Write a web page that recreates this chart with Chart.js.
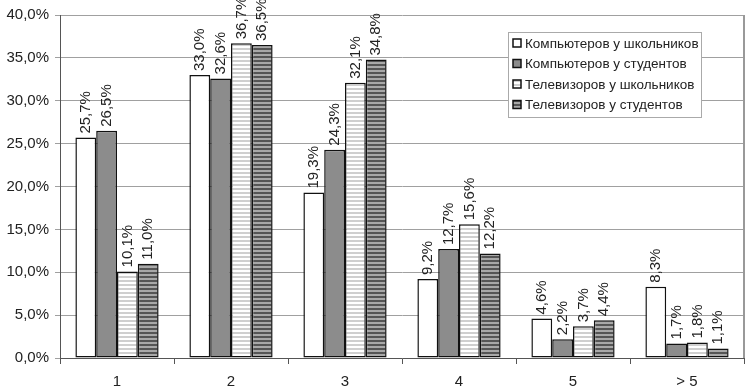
<!DOCTYPE html>
<html>
<head>
<meta charset="utf-8">
<script src="https://cdn.jsdelivr.net/npm/chart.js@4"></script>
<style>
  body { margin: 0; background: #fff; }
  #wrap { width: 749px; height: 391px; }
</style>
</head>
<body>
<div id="wrap"><canvas id="chart" width="749" height="391"></canvas></div>
<script>
var categories = ['1', '2', '3', '4', '5', '> 5'];
var seriesNames = [
    'Компьютеров у школьников',
    'Компьютеров у студентов',
    'Телевизоров у школьников',
    'Телевизоров у студентов'
];
var compSchool = [25.7, 33.0, 19.3, 9.2, 4.6, 8.3];
var compStudent = [26.5, 32.6, 24.3, 12.7, 2.2, 1.7];
var tvSchool = [10.1, 36.7, 32.1, 15.6, 3.7, 1.8];
var tvStudent = [11.0, 36.5, 34.8, 12.2, 4.4, 1.1];
var yTicks = [0, 5, 10, 15, 20, 25, 30, 35, 40];

var FONT = '"Liberation Sans", Arial, sans-serif';

function fmt(v) {
    return v.toFixed(1).replace('.', ',') + '%';
}

// horizontal stripe fill
function stripes(bg, line) {
    var c = document.createElement('canvas');
    c.width = 4; c.height = 4;
    var g = c.getContext('2d');
    g.fillStyle = bg;
    g.fillRect(0, 0, 4, 4);
    g.fillStyle = line;
    g.fillRect(0, 0, 4, 2);
    return g.createPattern(c, 'repeat');
}

var fills = ['#ffffff', '#8c8c8c', stripes('#ffffff', '#cfcfcf'), stripes('#a8a8a8', '#555555')];

var labelsPlugin = {
    id: 'barLabels',
    afterDatasetsDraw(chart) {
        var ctx = chart.ctx;
        ctx.save();
        ctx.font = '15px ' + FONT;
        ctx.fillStyle = '#222';
        ctx.textAlign = 'left';
        ctx.textBaseline = 'middle';
        chart.data.datasets.forEach((ds, i) => {
            chart.getDatasetMeta(i).data.forEach((bar, j) => {
                ctx.save();
                ctx.translate(bar.x, bar.y - 4);
                ctx.rotate(-Math.PI / 2);
                ctx.fillText(fmt(ds.data[j]), 0, 0);
                ctx.restore();
            });
        });
        ctx.restore();
    },
    afterDraw(chart) {
        var ctx = chart.ctx;
        var a = chart.chartArea;
        ctx.save();
        // right border of plot
        ctx.strokeStyle = '#999';
        ctx.lineWidth = 2;
        ctx.beginPath();
        ctx.moveTo(a.right, a.top);
        ctx.lineTo(a.right, a.bottom);
        ctx.stroke();

        // legend box
        var lx = 508, ly = 32, lw = 193, lh = 85;
        ctx.fillStyle = '#fff';
        ctx.fillRect(lx, ly, lw, lh);
        ctx.strokeStyle = '#aaa';
        ctx.lineWidth = 1;
        ctx.strokeRect(lx + 0.5, ly + 0.5, lw, lh);
        ctx.font = '13.5px ' + FONT;
        ctx.textBaseline = 'middle';
        seriesNames.forEach((name, i) => {
            var y = 43 + i * 20.5;
            ctx.fillStyle = fills[i];
            ctx.fillRect(513, y - 4, 8, 8);
            ctx.strokeStyle = '#111';
            ctx.lineWidth = 1.5;
            ctx.strokeRect(513, y - 4, 8, 8);
            ctx.fillStyle = '#222';
            ctx.fillText(name, 525, y + 1);
        });
        ctx.restore();
    }
};

var datasets = [compSchool, compStudent, tvSchool, tvStudent].map((d, i) => ({
    label: seriesNames[i],
    data: d,
    backgroundColor: fills[i],
    borderColor: '#111',
    borderWidth: 1.5,
    borderSkipped: false,
    categoryPercentage: 0.73,
    barPercentage: 1.0
}));

new Chart('chart', {
    type: 'bar',
    data: { labels: categories, datasets: datasets },
    plugins: [labelsPlugin],
    options: {
        responsive: false,
        animation: false,
        layout: { padding: { top: 15, right: 5, left: 0, bottom: 0 } },
        plugins: { legend: { display: false }, tooltip: { enabled: false } },
        scales: {
            x: {
                grid: { drawOnChartArea: false, offset: true, tickLength: 6, color: '#555' },
                border: { color: '#555', width: 1 },
                ticks: { font: { family: FONT, size: 15 }, color: '#222', padding: 9 },
                afterFit(s) { s.height = 33; }
            },
            y: {
                min: 0,
                max: 40,
                afterBuildTicks(s) { s.ticks = yTicks.map(v => ({ value: v })); },
                grid: { color: '#a0a0a0', lineWidth: 1, drawTicks: true, tickLength: 5 },
                border: { color: '#555', width: 1 },
                ticks: {
                    font: { family: FONT, size: 15 },
                    color: '#222',
                    padding: 6,
                    callback: v => fmt(v)
                },
                afterFit(s) { s.width = 60; }
            }
        }
    }
});
</script>
</body>
</html>
